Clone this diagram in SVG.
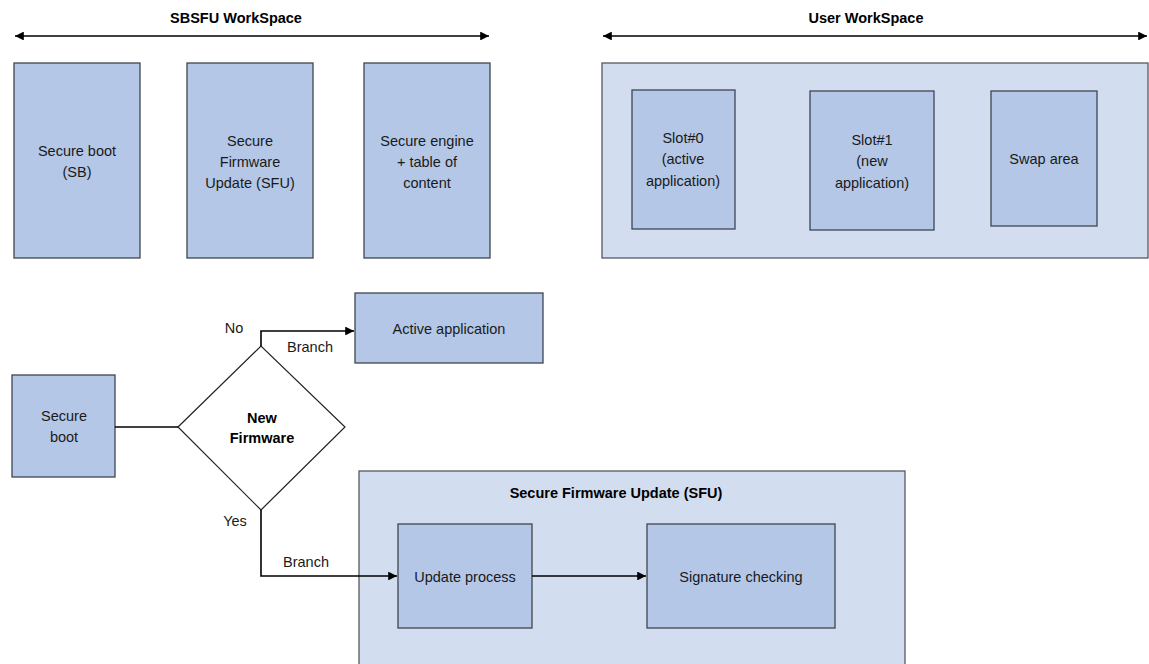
<svg xmlns="http://www.w3.org/2000/svg" width="1149" height="664" viewBox="0 0 1149 664">
<style>
  .box { fill: #b4c7e7; stroke: #3f4550; stroke-width: 1.3; }
  .outer { fill: #d3ddf0; stroke: #555a63; stroke-width: 1.3; }
  .diamond { fill: #ffffff; stroke: #222; stroke-width: 1.2; }
  .line { fill: none; stroke: #000; stroke-width: 1.6; }
  .t { font-family: "Liberation Sans", Arial, sans-serif; font-size: 14.5px; fill: #1a1a1a; text-anchor: middle; }
  .b { font-family: "Liberation Sans", Arial, sans-serif; font-size: 14.5px; font-weight: bold; fill: #000; text-anchor: middle; }
</style>
<defs>
  <marker id="ah" viewBox="0 0 10 10" refX="10" refY="5" markerWidth="5.5" markerHeight="5.5" orient="auto-start-reverse" markerUnits="strokeWidth">
    <path d="M0,0 L10,5 L0,10 z" fill="#000"/>
  </marker>
</defs>
<rect width="1149" height="664" fill="#ffffff"/>

<g id="sbsfu-title">
  <text class="b" x="236" y="23">SBSFU WorkSpace</text>
</g>
<g id="user-title">
  <text class="b" x="866" y="23">User WorkSpace</text>
</g>

<g id="sb">
  <rect class="box" x="14" y="63" width="126" height="195"/>
  <text class="t" x="77" y="156">Secure boot</text>
  <text class="t" x="77" y="177">(SB)</text>
</g>
<g id="sfu">
  <rect class="box" x="187" y="63" width="126" height="195"/>
  <text class="t" x="250" y="146">Secure</text>
  <text class="t" x="250" y="167">Firmware</text>
  <text class="t" x="250" y="188">Update (SFU)</text>
</g>
<g id="se">
  <rect class="box" x="364" y="63" width="126" height="195"/>
  <text class="t" x="427" y="146">Secure engine</text>
  <text class="t" x="427" y="167">+ table of</text>
  <text class="t" x="427" y="188">content</text>
</g>

<g id="user-workspace">
  <rect class="outer" x="602" y="63" width="546" height="195"/>
</g>
<g id="slot0">
  <rect class="box" x="632" y="90" width="103" height="139"/>
  <text class="t" x="683" y="143">Slot#0</text>
  <text class="t" x="683" y="164">(active</text>
  <text class="t" x="683" y="186">application)</text>
</g>
<g id="slot1">
  <rect class="box" x="810" y="91" width="124" height="139"/>
  <text class="t" x="872" y="145">Slot#1</text>
  <text class="t" x="872" y="166">(new</text>
  <text class="t" x="872" y="188">application)</text>
</g>
<g id="swap">
  <rect class="box" x="991" y="91" width="106" height="135"/>
  <text class="t" x="1044" y="164">Swap area</text>
</g>

<g id="secure-boot">
  <rect class="box" x="12" y="375" width="103" height="102"/>
  <text class="t" x="64" y="421">Secure</text>
  <text class="t" x="64" y="442">boot</text>
</g>
<g id="new-firmware">
  <polygon class="diamond" points="178,427 261,346 345,427 261,510"/>
  <text class="b" x="262" y="423" font-size="13.5">New</text>
  <text class="b" x="262" y="443" font-size="13.5">Firmware</text>
</g>
<g id="active-app">
  <rect class="box" x="355" y="293" width="188" height="70"/>
  <text class="t" x="449" y="334">Active application</text>
</g>

<g id="sfu-group">
  <rect class="outer" x="359" y="471" width="546" height="200"/>
  <text class="b" x="616" y="498" font-size="15.5">Secure Firmware Update (SFU)</text>
</g>
<g id="update-process">
  <rect class="box" x="398" y="524" width="134" height="104"/>
  <text class="t" x="465" y="582">Update process</text>
</g>
<g id="signature">
  <rect class="box" x="647" y="524" width="188" height="104"/>
  <text class="t" x="741" y="582">Signature checking</text>
</g>

<g id="connectors">
  <line class="line" x1="15" y1="36" x2="489" y2="36" marker-start="url(#ah)" marker-end="url(#ah)"/>
  <line class="line" x1="603" y1="36" x2="1147" y2="36" marker-start="url(#ah)" marker-end="url(#ah)"/>
  <line class="line" x1="115" y1="427" x2="178" y2="427"/>
  <polyline class="line" points="261,346 261,331 354,331" marker-end="url(#ah)"/>
  <polyline class="line" points="261,510 261,576 397,576" marker-end="url(#ah)"/>
  <line class="line" x1="532" y1="576" x2="646" y2="576" marker-end="url(#ah)"/>
  <text class="t" x="234" y="333">No</text>
  <text class="t" x="310" y="352">Branch</text>
  <text class="t" x="235" y="526">Yes</text>
  <text class="t" x="306" y="567">Branch</text>
</g>
</svg>
